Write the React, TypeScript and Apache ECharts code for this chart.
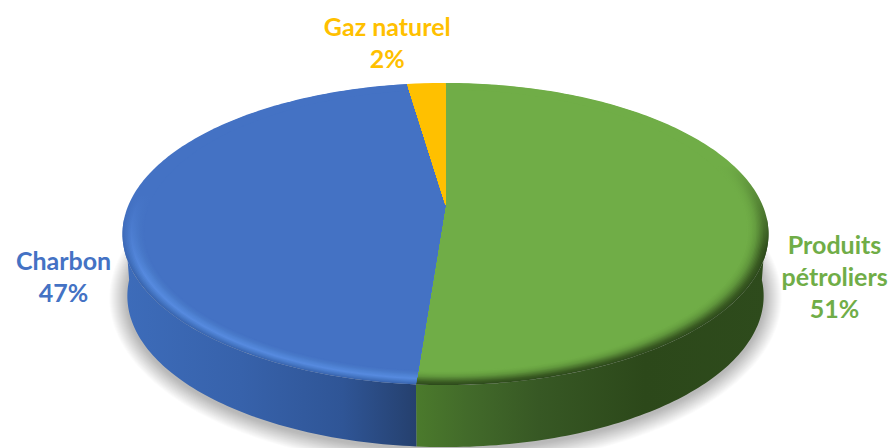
import React, { useEffect, useRef } from "react";
import * as echarts from "echarts";

const categories = ["Produits pétroliers", "Charbon", "Gaz naturel"];
const shares = [51.2, 46.5, 2.3];
const labelLines = [["Produits", "pétroliers", "51%"], ["Charbon", "47%"], ["Gaz naturel", "2%"]];
const faceColors = ["#70ad47", "#4472c4", "#ffc000"];

// Perspective disc geometry
const CX = 445.5, CY = 205, RX = 317, RY = 145.5, K = 0.192;
const DEPTH = 62, BOTTOM_SCALE = 0.985, BEVEL = 0.065, BEVEL_STEPS = 16;
const rad = (d: number) => (d * Math.PI) / 180;

function pt(r: number, deg: number, bottom = false): number[] {
  const u = r * Math.sin(rad(deg));
  const v = r * Math.cos(rad(deg));
  const w = 1 + K * v;
  let x = (RX * u) / w;
  let y = CY - (RY * v) / w;
  if (bottom) {
    x *= BOTTOM_SCALE;
    y += DEPTH;
  }
  return [CX + x, y];
}
function arc(r: number, a: number, b: number, bottom = false): number[][] {
  const n = Math.max(1, Math.ceil(Math.abs(b - a)));
  const out: number[][] = [];
  for (let i = 0; i <= n; i++) out.push(pt(r, a + ((b - a) * i) / n, bottom));
  return out;
}
const hGrad = (stops: [number, string][], x0: number, x1: number) => ({
  type: "linear", global: true, x: x0, y: 0, x2: x1, y2: 0,
  colorStops: stops.map(([offset, color]) => ({ offset, color })),
});
const vGrad = (from: string, to: string, y0: number, y1: number) => ({
  type: "linear", global: true, x: 0, y: y0, x2: 0, y2: y1,
  colorStops: [{ offset: 0, color: from }, { offset: 1, color: to }],
});
function hexMix(a: string, b: string, t: number): string {
  const p = (h: string, i: number) => parseInt(h.slice(i, i + 2), 16);
  const c = [1, 3, 5].map((i) => Math.round(p(a, i) + (p(b, i) - p(a, i)) * t));
  return "#" + c.map((v) => v.toString(16).padStart(2, "0")).join("");
}
function rampAt(ramp: string[], t: number): string {
  const x = t * (ramp.length - 1);
  const i = Math.min(ramp.length - 2, Math.floor(x));
  return hexMix(ramp[i], ramp[i + 1], x - i);
}

const wallFills: any[] = [
  hGrad([[0, "#4b7a2c"], [0.15, "#426a2a"], [0.35, "#375824"], [0.65, "#2c481a"], [1, "#2e4b1c"]], 416, 768),
  hGrad([[0, "#3d6cba"], [0.4, "#3762ab"], [0.75, "#2f5596"], [1, "#25406e"]], 123, 416),
  "#bf9000",
];
const bevelRamps: string[][] = [
  ["#2e4b1c", "#3a5c22", "#4e7a30", "#60963c", "#6aa542", "#70ad47"],
  ["#3a66b0", "#4779c8", "#568adf", "#4f83d5", "#4879c9", "#4472c4"],
  ["#ffc000", "#ffc000"],
];
const bevelGradY: number[][] = [[165, 250], [195, 275], [0, 1]];
const labelOffsets = [[70, 65], [-63, 66], [-39, -41]];

function renderSlice(params: any, api: any) {
  const i = params.dataIndex;
  const total = shares.reduce((a, b) => a + b, 0);
  let prior = 0;
  for (let j = 0; j < i; j++) prior += shares[j];
  const a = (prior / total) * 360;
  const b = a + (api.value(0) / total) * 360;
  const children: any[] = [];

  // side wall (front half only)
  const wa = Math.max(a, 95), wb = Math.min(b, 265);
  if (wb > wa) {
    children.push({
      type: "polygon",
      shape: { points: [...arc(1, wa, wb), ...arc(1, wb, wa, true)] },
      style: { fill: wallFills[i] },
    });
  }
  // bevel: nested wedges from the rim inward
  const ramp = bevelRamps[i];
  const [g0, g1] = bevelGradY[i];
  for (let s = 0; s < BEVEL_STEPS; s++) {
    const r = 1 - (BEVEL * s) / BEVEL_STEPS;
    children.push({
      type: "polygon",
      shape: { points: [pt(0, 0), ...arc(r, a, b)] },
      style: { fill: vGrad(faceColors[i], rampAt(ramp, s / (BEVEL_STEPS - 1)), g0, g1) },
    });
  }
  // flat face
  children.push({
    type: "polygon",
    shape: { points: [pt(0, 0), ...arc(1 - BEVEL, a, b)] },
    style: { fill: faceColors[i] },
  });
  // label
  const mid = pt(1, (a + b) / 2);
  children.push({
    type: "text",
    x: mid[0] + labelOffsets[i][0],
    y: mid[1] + labelOffsets[i][1],
    style: {
      text: labelLines[i].join("\n"),
      fill: faceColors[i],
      fontFamily: "Lato",
      fontWeight: "bold",
      fontSize: 25,
      lineHeight: 32,
      align: "center",
      verticalAlign: "middle",
    },
  });
  return { type: "group", children };
}

const SHADOW_LAYERS = [18, 17, 16, 15, 14, 13, 12, 11, 10, 9, 8, 7, 6, 5, 4, 3, 2, 1];
function renderShadow() {
  const base = arc(1, 0, 360, true);
  const midY = CY + 29 + DEPTH;
  const children = SHADOW_LAYERS.map((grow) => ({
    type: "polygon",
    shape: {
      points: base.map(([x, y]) => [
        CX + (x - CX) * (1 + grow / 318),
        midY + (y - midY) * (1 + grow / 150) + 2,
      ]),
    },
    style: { fill: "rgba(0,0,0,0.014)" },
  }));
  return { type: "group", children };
}

export default function App() {
  const ref = useRef<HTMLDivElement>(null);
  useEffect(() => {
    const chart = echarts.init(ref.current!, undefined, { renderer: "svg" });
    chart.setOption({
      animation: false,
      backgroundColor: "#ffffff",
      series: [
        { type: "custom", coordinateSystem: "none", z: 1, silent: true, renderItem: renderShadow, data: [[1]] },
        {
          type: "custom",
          coordinateSystem: "none",
          z: 2,
          silent: true,
          renderItem: renderSlice,
          data: shares.map((v, i) => ({ name: categories[i], value: [v] })),
        },
      ],
    });
    return () => chart.dispose();
  }, []);
  return <div ref={ref} style={{ position: "absolute", left: 0, top: 0, width: 891, height: 448 }} />;
}
